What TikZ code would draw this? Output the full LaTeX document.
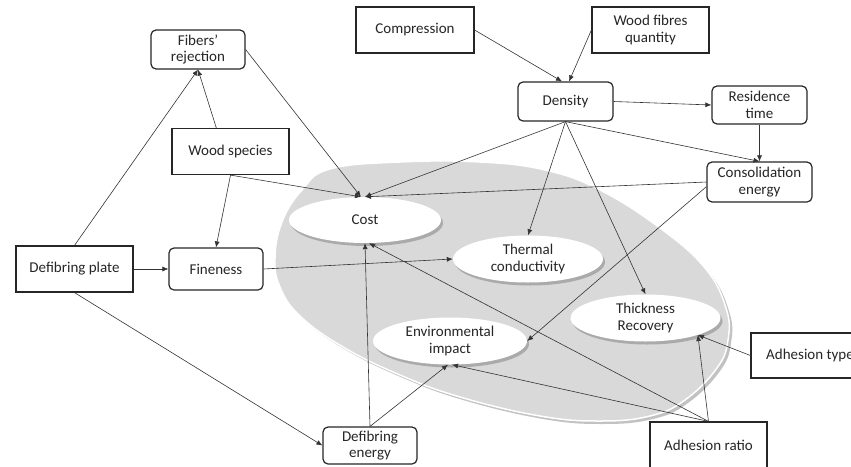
\documentclass[tikz,border=0pt]{standalone}
\usepackage{fontspec}
\setmainfont{Carlito}
\usetikzlibrary{shapes.geometric,shadows,arrows.meta}
\begin{document}
\begin{tikzpicture}[x=1pt,y=-1pt,
  every node/.style={font=\fontsize{15}{16.5}\selectfont, text=black!85, align=center, inner sep=0pt},
  sq/.style={draw=black!85, line width=1.2pt, fill=white, minimum width=117pt, minimum height=46pt},
  rbox/.style={draw=black!85, line width=1.2pt, fill=white, rounded corners=5pt, minimum width=94pt, minimum height=39pt},
  oval/.style={ellipse, fill=white, minimum width=150pt, minimum height=47pt,
    drop shadow={shadow xshift=2pt, shadow yshift=-3pt, fill=black!45, opacity=0.6}},
  conn/.style={draw=black!80, line width=0.6pt, -{Latex[length=6pt,width=5pt]}}
]
\useasboundingbox (0,0) rectangle (851,466);
\clip (0,0) rectangle (851,466);

% big grey group
\path[fill=black!15, draw=white, line width=1.5pt,
  drop shadow={shadow xshift=3pt, shadow yshift=-3pt, fill=black!40, opacity=0.6}]
  plot[smooth cycle, tension=0.7] coordinates {(275,258) (282,222) (302,190) (330,169) (400,162) (480,162) (545,170) (600,190) (660,228) (705,268) (726,308) (728,340) (717,368) (685,400) (650,416) (600,421) (540,416) (460,397) (400,375) (343,347) (300,316) (280,287)};

% outcome ellipses
\node[oval, minimum width=152pt, minimum height=46pt] (cost) at (365,220) {Cost};
\node[oval] (therm) at (528,259) {Thermal\\conductivity};
\node[oval] (thick) at (645.5,318) {Thickness\\Recovery};
\node[oval, minimum width=154pt] (env) at (450,341) {Environmental\\impact};

% boxes
\node[rbox] (fib) at (198,49.5) {Fibers’\\rejection};
\node[sq] (ws) at (230.5,151.5) {Wood species};
\node[sq, minimum width=118pt] (comp) at (415,30) {Compression};
\node[sq] (wfq) at (650.5,30) {Wood fibres\\quantity};
\node[rbox, minimum width=95pt] (dens) at (565.5,101.5) {Density};
\node[rbox, minimum width=95pt, minimum height=38pt] (res) at (759.5,105) {Residence\\time};
\node[rbox, minimum width=105pt, minimum height=40pt] (cons) at (759.5,182) {Consolidation\\energy};
\node[sq] (dp) at (74.5,269) {Defibring plate};
\node[rbox, minimum height=42pt] (fin) at (216,269) {Fineness};
\node[rbox, minimum height=37pt] (de) at (370,445.5) {Defibring\\energy};
\node[sq, minimum width=118pt, minimum height=45pt] (adht) at (810,355.5) {Adhesion type};
\node[sq] (ar) at (708.5,445) {Adhesion ratio};

% connectors
\draw[conn] (ws.121) -- (fib.south);
\draw[conn] (dp.north) -- (fib.south);
\draw[conn] (fib.east) -- (cost.100);
\draw[conn] (ws.south) -- (cost.100);
\draw[conn] (ws.south) -- (fin.north);
\draw[conn] (dp.east) -- (fin.west);
\draw[conn] (dp.south) -- (de.west);
\draw[conn] (fin.east) -- (therm.west);
\draw[conn] (comp.east) -- (dens.100);
\draw[conn] (wfq.west) -- (dens.80);
\draw[conn] (dens.east) -- (res.west);
\draw[conn] (res.south) -- (cons.north);
\draw[conn] (dens.south) -- (cons.north);
\draw[conn] (dens.south) -- (cost.north);
\draw[conn] (dens.south) -- (therm.north);
\draw[conn] (dens.south) -- (thick.north);
\draw[conn] (cons.west) -- (cost.north);
\draw[conn] (cons.185) -- (env.east);
\draw[conn] (de.north) -- (cost.south);
\draw[conn] (de.north) -- (env.-95);
\draw[conn] (ar.north) -- (cost.-80);
\draw[conn] (ar.north) -- (env.-85);
\draw[conn] (ar.north) -- (thick.-18);
\draw[conn] (adht.west) -- (thick.-18);
\end{tikzpicture}
\end{document}
